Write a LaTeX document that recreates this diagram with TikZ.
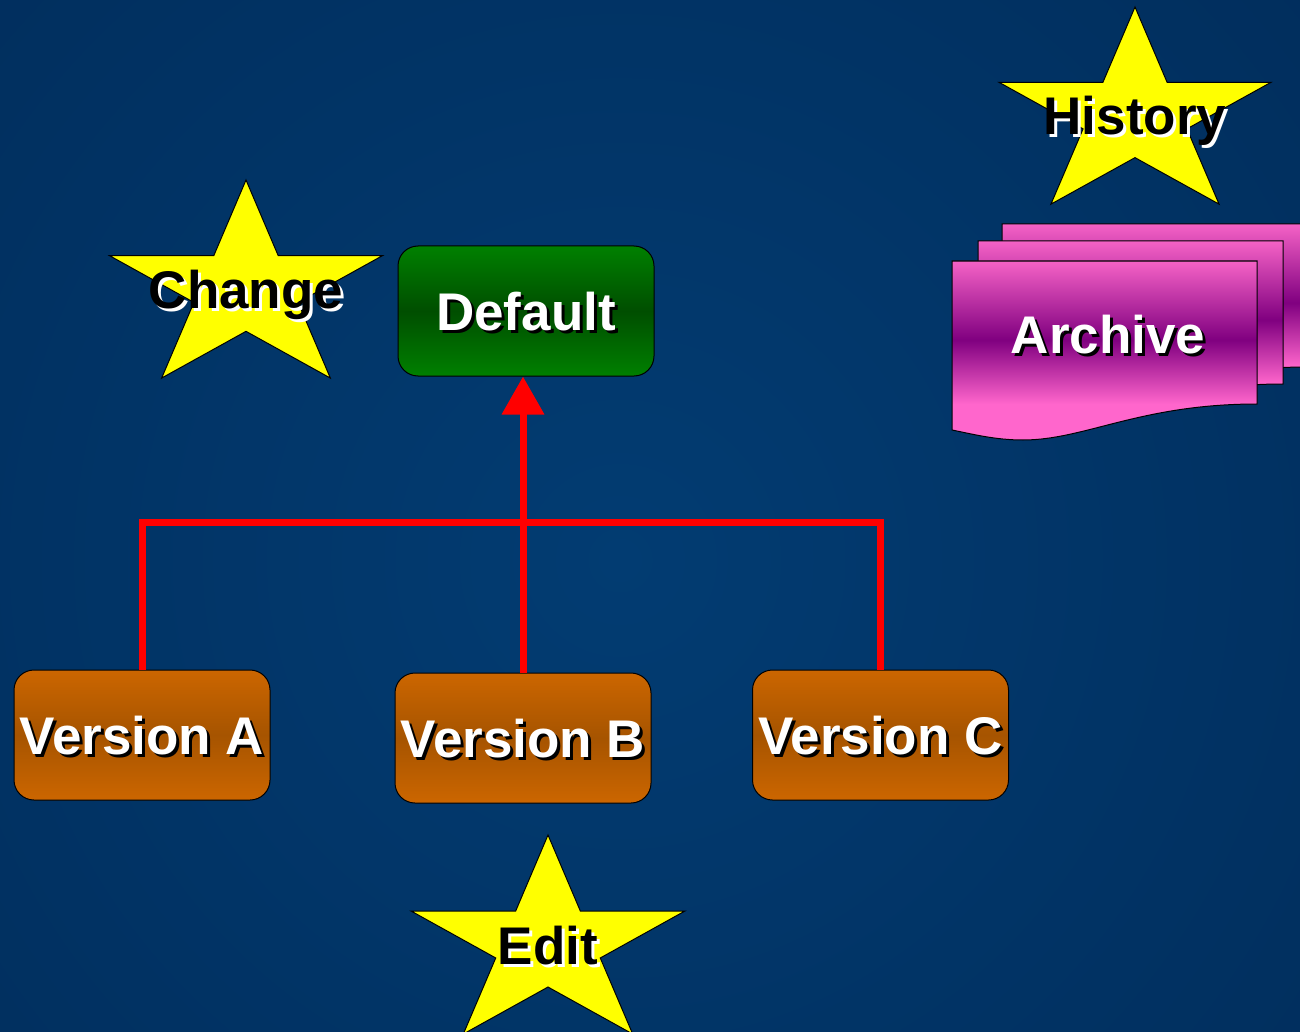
\documentclass[tikz,border=0pt]{standalone}
\usepackage{fontspec}
\setmainfont{Liberation Sans}
\usetikzlibrary{arrows.meta,shadings}
\definecolor{bgin}{RGB}{2,60,114}
\definecolor{bgout}{RGB}{0,32,72}
\definecolor{stary}{RGB}{255,255,0}
\definecolor{grtop}{RGB}{0,128,0}
\definecolor{grmid}{RGB}{0,78,0}
\definecolor{ortop}{RGB}{204,102,0}
\definecolor{ormid}{RGB}{166,84,0}
\definecolor{artop}{RGB}{245,98,198}
\definecolor{armid}{RGB}{128,0,128}
\definecolor{arbot}{RGB}{255,102,204}
\pgfdeclareverticalshading{archshade}{100bp}{color(0bp)=(arbot); color(35bp)=(arbot); color(53bp)=(armid); color(75bp)=(artop); color(100bp)=(artop)}
\newcommand\shtext[3]{\makebox[0pt][l]{\kern3pt\raisebox{-3pt}{\color{#1}#3}}{\color{#2}#3}}
\newcommand\drawstar[4]{%
  \path[starstyle] ({#1},{#2-#4}) -- ({#1+0.2245*#3},{#2-0.309*#4}) -- ({#1+0.951*#3},{#2-0.309*#4})
  -- ({#1+0.363*#3},{#2+0.118*#4}) -- ({#1+0.588*#3},{#2+0.809*#4}) -- ({#1},{#2+0.382*#4})
  -- ({#1-0.588*#3},{#2+0.809*#4}) -- ({#1-0.363*#3},{#2+0.118*#4}) -- ({#1-0.951*#3},{#2-0.309*#4})
  -- ({#1-0.2245*#3},{#2-0.309*#4}) -- cycle;}
\newcommand\archsheet[2]{%
  \begin{scope}[shift={(#1,#2)}]
  \path[sheetstyle] (952,261) -- (1257,261) -- (1257,404) .. controls (1140,404) and (1085,440) .. (1023,440) .. controls (995,440) and (972,434) .. (952,430) -- cycle;
  \end{scope}}
\tikzset{
  starstyle/.style={draw=black, line width=1pt, fill=stary, line join=miter},
  lbl/.style={font=\fontsize{53}{60}\selectfont\bfseries, text height=38pt, text depth=0pt, inner sep=0pt},
  boxstyle/.style={draw=black, line width=1pt, rounded corners=20pt, minimum width=256pt, minimum height=130pt, inner sep=0pt, font=\fontsize{53}{60}\selectfont\bfseries, text height=38pt, text depth=0pt},
  greenbox/.style={boxstyle, top color=grtop, bottom color=grtop, middle color=grmid},
  orangebox/.style={boxstyle, top color=ortop, bottom color=ortop, middle color=ormid},
  sheetstyle/.style={draw=black, line width=1pt, shading=archshade},
  redline/.style={draw=red, line width=7pt, line join=miter}
}
\begin{document}
\begin{tikzpicture}[x=1pt,y=-1pt]
\useasboundingbox (0,0) rectangle (1300,1032);
\shade[inner color=bgin, outer color=bgout] (-1180,-1240) rectangle (2420,2360);
% stars
\drawstar{246}{289.5}{143.5}{109.5}
\node[lbl] (change) at (246,289.5) {\shtext{white}{black}{Change}};
\drawstar{1135}{116}{143}{109}
\node[lbl] (history) at (1135,116) {\shtext{white}{black}{History}};
\drawstar{548}{945}{144}{110}
\node[lbl] (edit) at (548,945) {\shtext{white}{black}{Edit}};
% archive
\archsheet{50}{-37}
\archsheet{26}{-20}
\archsheet{0}{0}
\node[lbl] (archive) at (1108,334) {\shtext{black}{white}{Archive}};
% boxes
\node[greenbox] (def) at (526,311) {\shtext{black}{white}{Default}};
\node[orangebox] (va) at (142,735) {\shtext{black}{white}{Version A}};
\node[orangebox] (vb) at (523,738) {\shtext{black}{white}{Version B}};
\node[orangebox] (vc) at (880.5,735) {\shtext{black}{white}{Version C}};
% connectors
\coordinate (jy) at (0,522);
\coordinate (junction) at (vb.north |- jy);
\draw[redline] (va.north) |- (junction) -| (vc.north);
\draw[redline] (vb.north) -- (junction);
\draw[redline, -{Triangle[width=41pt,length=38pt]}] (junction) -- (junction |- def.south);
\end{tikzpicture}
\end{document}
